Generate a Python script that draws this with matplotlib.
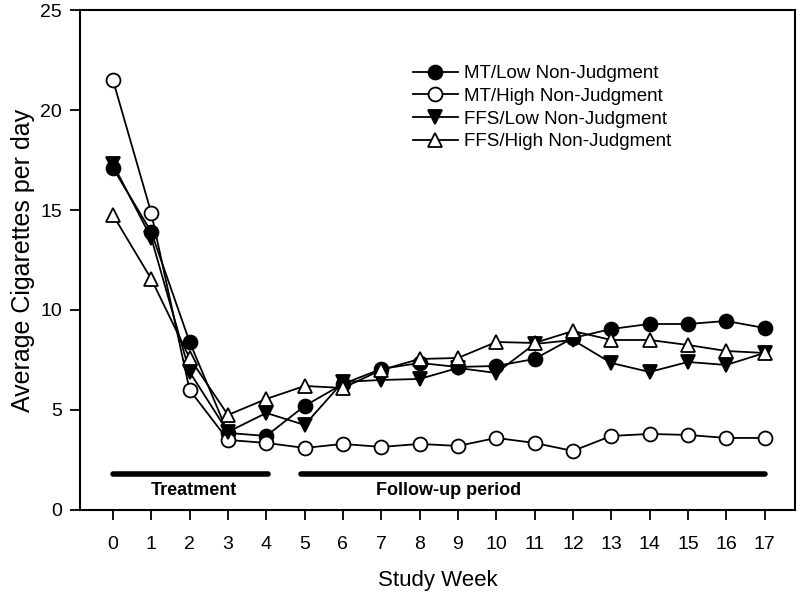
import matplotlib.pyplot as plt

weeks = list(range(18))

mt_low = [17.1, 13.9, 8.4, 3.85, 3.7, 5.2, 6.3, 7.05, 7.35, 7.15, 7.2, 7.55, 8.6, 9.05, 9.3, 9.3, 9.45, 9.1]
mt_high = [21.5, 14.85, 6.0, 3.5, 3.35, 3.1, 3.3, 3.15, 3.3, 3.2, 3.6, 3.35, 2.95, 3.7, 3.8, 3.75, 3.6, 3.6]
ffs_low = [17.3, 13.6, 6.9, 3.9, 4.85, 4.25, 6.4, 6.5, 6.55, 7.1, 6.85, 8.3, 8.5, 7.35, 6.9, 7.4, 7.25, 7.85]
ffs_high = [14.75, 11.55, 7.6, 4.75, 5.55, 6.2, 6.1, 7.0, 7.55, 7.6, 8.4, 8.35, 8.95, 8.5, 8.5, 8.25, 7.95, 7.85]

labels = ['MT/Low Non-Judgment', 'MT/High Non-Judgment',
          'FFS/Low Non-Judgment', 'FFS/High Non-Judgment']

plt.rcParams['font.family'] = ['Liberation Sans', 'DejaVu Sans']

fig = plt.figure(figsize=(8, 5.95), dpi=100)
ax = fig.add_axes([0.1, 0.143, 0.894, 0.84])

style = dict(color='black', lw=1.3, markersize=10, markeredgewidth=1.3,
             markeredgecolor='black')
ax.plot(weeks, mt_low, marker='o', markerfacecolor='black', label=labels[0], **style)
ax.plot(weeks, mt_high, marker='o', markerfacecolor='white', label=labels[1], **style)
ax.plot(weeks, ffs_low, marker='v', markerfacecolor='black', label=labels[2], **style)
ax.plot(weeks, ffs_high, marker='^', markerfacecolor='white', label=labels[3], **style)

# period bars
ax.plot([0, 4.05], [1.8, 1.8], color='black', lw=4, solid_capstyle='round')
ax.plot([4.9, 17], [1.8, 1.8], color='black', lw=4, solid_capstyle='round')
bold = dict(fontsize=13, fontweight='bold', ha='center', va='center')
ax.text(2.1, 0.95, 'Treatment', **bold)
ax.text(8.75, 0.95, 'Follow-up period', **bold)

ax.set_xlim(-0.86, 17.8)
ax.set_ylim(0, 25)
ax.set_xticks(weeks)
ax.set_yticks([0, 5, 10, 15, 20, 25])
ax.tick_params(direction='out', length=7, width=1.3, labelsize=14)
ax.tick_params(axis='x', pad=12)
ax.tick_params(axis='y', pad=6)
for s in ax.spines.values():
    s.set_linewidth(1.5)

ax.set_xlabel('Study Week', fontsize=16, labelpad=12)
ax.set_ylabel('Average Cigarettes per day', fontsize=18, labelpad=4)

ax.legend(loc='upper left', bbox_to_anchor=(0.455, 0.905), frameon=False,
          fontsize=13.5, handlelength=2.4, handletextpad=0.3, labelspacing=0.3,
          borderaxespad=0)

fig.savefig('out.png', dpi=100)
